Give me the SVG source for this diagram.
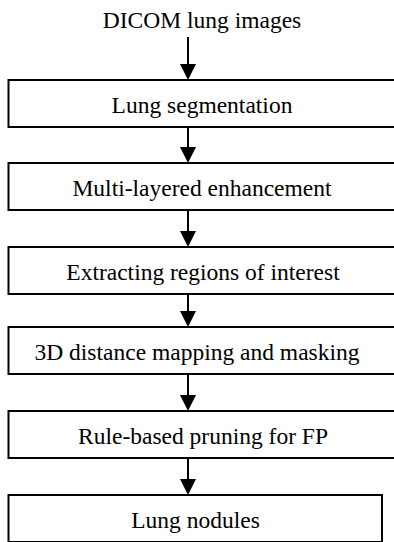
<svg xmlns="http://www.w3.org/2000/svg" width="394" height="542" viewBox="0 0 394 542">
<style>
.box{fill:#fff;stroke:#000;stroke-width:2}
.lbl{font-family:"Liberation Serif","Times New Roman",serif;font-size:23.5px;fill:#000;text-anchor:middle}
.conn{stroke:#000;stroke-width:2;fill:none}
</style>
<defs>
<marker id="ah" markerWidth="16" markerHeight="16" refX="0" refY="8" orient="auto" markerUnits="userSpaceOnUse">
<path d="M0,0 L16,8 L0,16 z" fill="#000"/>
</marker>
</defs>
<rect width="394" height="542" fill="#fff"/>
<g id="connectors">
<line class="conn" x1="188" y1="37" x2="188" y2="64" marker-end="url(#ah)"/>
<line class="conn" x1="188" y1="127" x2="188" y2="147" marker-end="url(#ah)"/>
<line class="conn" x1="188" y1="210" x2="188" y2="231" marker-end="url(#ah)"/>
<line class="conn" x1="188" y1="294" x2="188" y2="311" marker-end="url(#ah)"/>
<line class="conn" x1="188" y1="374" x2="188" y2="395" marker-end="url(#ah)"/>
<line class="conn" x1="188" y1="458" x2="188" y2="479" marker-end="url(#ah)"/>
</g>
<g id="input"><text class="lbl" x="202" y="28">DICOM lung images</text></g>
<g id="lung-segmentation"><rect class="box" x="8.5" y="80" width="390" height="47"/><text class="lbl" x="202" y="113">Lung segmentation</text></g>
<g id="enhancement"><rect class="box" x="8.5" y="163" width="390" height="47"/><text class="lbl" x="202" y="196">Multi-layered enhancement</text></g>
<g id="roi"><rect class="box" x="8.5" y="247" width="390" height="47"/><text class="lbl" x="203" y="280">Extracting regions of interest</text></g>
<g id="distance-mapping"><rect class="box" x="8.5" y="327" width="390" height="47"/><text class="lbl" x="197" y="360">3D distance mapping and masking</text></g>
<g id="pruning"><rect class="box" x="8.5" y="411" width="390" height="47"/><text class="lbl" x="203" y="444">Rule-based pruning for FP</text></g>
<g id="nodules"><rect class="box" x="8.5" y="495" width="373.5" height="47"/><text class="lbl" x="195.5" y="528">Lung nodules</text></g>
</svg>
